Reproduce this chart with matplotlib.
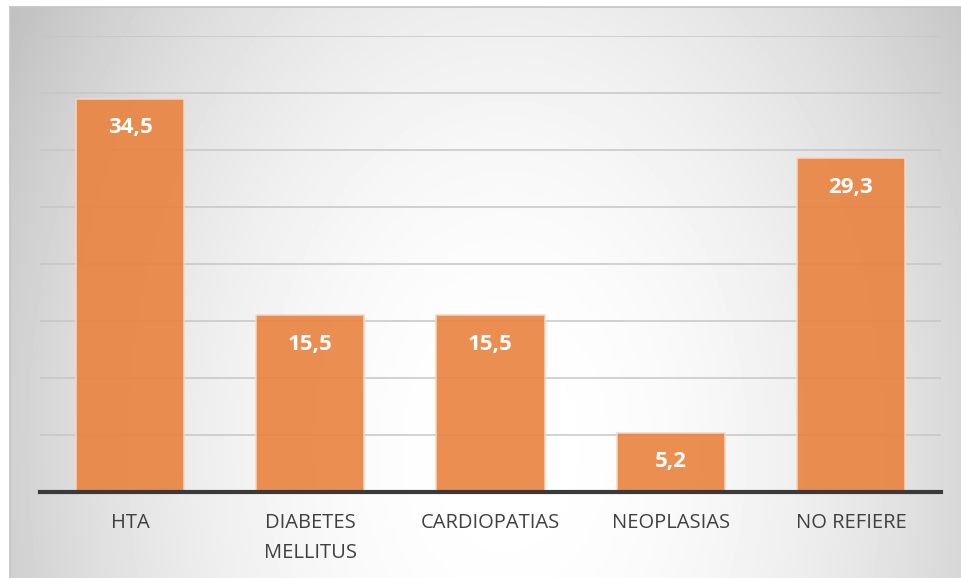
import matplotlib.pyplot as plt
import numpy as np

categorias = ["HTA", "DIABETES\nMELLITUS", "CARDIOPATIAS", "NEOPLASIAS", "NO REFIERE"]
porcentajes = [34.5, 15.5, 15.5, 5.2, 29.3]
etiquetas = ["34,5", "15,5", "15,5", "5,2", "29,3"]

plt.rcParams['font.family'] = ['Open Sans', 'DejaVu Sans']

W, H = 961, 578
fig = plt.figure(figsize=(W / 100, H / 100), dpi=100)

# fondo con degradado radial (claro en el centro, gris en los bordes)
bg = fig.add_axes([10 / W, 0, 1 - 10 / W, 1 - 7 / H])
yy, xx = np.mgrid[0:571, 0:951]
cx, cy = 495, 440
d2 = ((xx - cx) / 480.0) ** 2 + ((yy - cy) / 690.0) ** 2
val = 1.0 - 0.17 * d2
bg.imshow(val, cmap='gray', vmin=0, vmax=1, aspect='auto', interpolation='bilinear')
bg.set_xticks([])
bg.set_yticks([])
for s in bg.spines.values():
    s.set_color('#c4c4c4')
    s.set_linewidth(1.2)
bg.spines['right'].set_visible(False)
bg.spines['bottom'].set_visible(False)

ax = fig.add_axes([40 / W, (H - 492) / H, 901 / W, (492 - 36) / H])
ax.patch.set_alpha(0)
x = np.arange(len(categorias))
bars = ax.bar(x, porcentajes, width=0.6, color='#E9823F', alpha=0.9,
              edgecolor='#f6d8c4', linewidth=1.2, zorder=3)
ax.set_xlim(-0.5, len(categorias) - 0.5)
ax.set_ylim(0, 40)
ax.set_yticks(np.arange(0, 41, 5))
ax.yaxis.grid(True, color='#c6c6c6', linewidth=1.1, zorder=0)
ax.set_axisbelow(True)
ax.tick_params(axis='y', left=False, labelleft=False)
ax.tick_params(axis='x', length=0, pad=15, labelsize=14.5, labelcolor='#404040')
ax.set_xticks(x)
ax.set_xticklabels(categorias, linespacing=1.7, va='top')
for s in ['top', 'right', 'left']:
    ax.spines[s].set_visible(False)
ax.spines['bottom'].set_color('#3a3a3a')
ax.spines['bottom'].set_linewidth(3)
ax.spines['bottom'].set_zorder(4)

for b, txt in zip(bars, etiquetas):
    ax.annotate(txt, (b.get_x() + b.get_width() / 2, b.get_height()),
                xytext=(0, -21), textcoords='offset points',
                ha='center', va='center', color='white',
                fontsize=16, fontweight='bold', zorder=5)

fig.savefig('out.png', dpi=100)
